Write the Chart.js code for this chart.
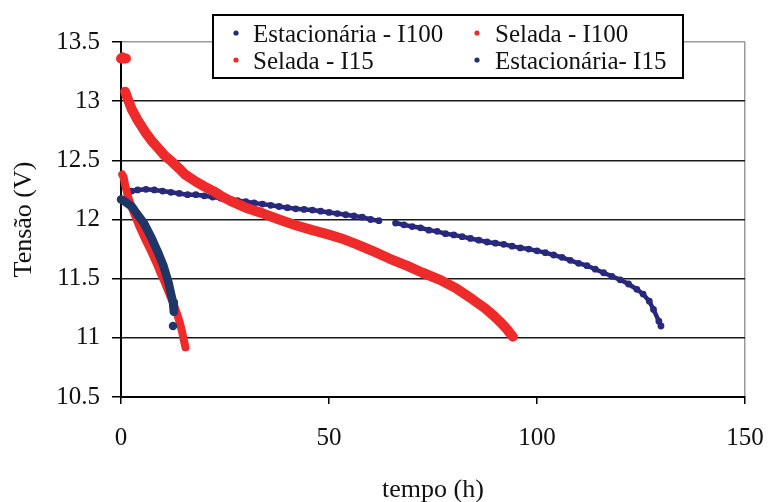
<!DOCTYPE html>
<html><head><meta charset="utf-8">
<script src="https://cdn.jsdelivr.net/npm/chart.js@4.4.1/dist/chart.umd.min.js"></script>
<style>html,body{margin:0;padding:0;background:#fff;}#wrap{width:772px;height:502px;}</style>
</head><body><div id="wrap"><canvas id="c" width="772" height="502"></canvas></div>
<script>
// ---- data ----
const xTickLabels = ['0', '50', '100', '150'];
const yTickLabels = ['10.5', '11', '11.5', '12', '12.5', '13', '13.5'];
const seriesNames = ['Estacionária - I100', 'Selada - I100', 'Selada - I15', 'Estacionária- I15'];

const estI100_t = [2.6,4,6,8,10,12,14,16,18,20,22,24,26,28,30,32,34,36,38,40,42,44,46,48,50,52,54,56,58,60,62,64,66,68,70,72,74,76,78,80,82,84,86,88,90,92,94,96,98,100,102,104,106,108,110,112,114,116,118,120,122,124,125.5,127,128,129.3,129.8];
const estI100_v = [12.24,12.25,12.255,12.25,12.24,12.23,12.22,12.21,12.21,12.20,12.19,12.18,12.17,12.16,12.15,12.14,12.13,12.12,12.11,12.10,12.09,12.085,12.08,12.07,12.06,12.05,12.04,12.03,12.02,12.00,11.99,null,11.97,11.955,11.94,11.93,11.91,11.90,11.88,11.87,11.855,11.84,11.825,11.81,11.80,11.79,11.775,11.76,11.75,11.735,11.72,11.70,11.68,11.655,11.63,11.61,11.58,11.55,11.52,11.49,11.455,11.41,11.37,11.31,11.24,11.14,11.10];

const selI100_t = [0,0.4,0.8,1.2,1.1,1.0,1.6,2.6,4,5.8,7.5,9,10.5,12.2,14,15.4,18,20,22.2,24,26.2,30,34.2,38,42.2,46,50.2,53,56.7,60.7,64.5,68.7,72.5,76.7,80.5,84.7,87.5,89.5,91,92.6,94.2];
const selI100_v = [13.36,13.37,13.36,13.36,null,13.08,13.02,12.93,12.84,12.74,12.66,12.60,12.54,12.49,12.43,12.38,12.32,12.28,12.24,12.20,12.16,12.10,12.05,12.00,11.95,11.91,11.87,11.84,11.79,11.73,11.67,11.61,11.55,11.49,11.42,11.32,11.25,11.19,11.14,11.08,11.01];

const selI15_t = [0.3,0.6,1.0,1.8,2.6,3.4,4.2,5.1,6.0,7.0,7.9,8.8,9.6,10.5,11.3,12.1,12.9,13.6,14.2,14.7,15.1,15.5];
const selI15_v = [12.38,12.36,12.29,12.18,12.10,12.03,11.96,11.89,11.82,11.75,11.68,11.61,11.54,11.47,11.40,11.33,11.26,11.19,11.12,11.05,10.98,10.92];

const estI15_t = [0,0.6,1.4,2.6,3.8,5.5,7.4,8.8,10.2,10.8,11.4,12.1,12.5,12.7,12.6,12.5];
const estI15_v = [12.17,12.16,12.14,12.11,12.05,11.97,11.84,11.73,11.61,11.54,11.47,11.36,11.30,11.22,null,11.10];

// ---- styling ----
const FONT = 'Liberation Serif, Times New Roman, serif';
const C_EST100 = '#28287c';
const C_EST15 = '#1e3766';
const C_RED = '#ee2a2a';

function pts(t, v) { return t.map((x, i) => ({ x: x, y: v[i] })); }

const legendPlugin = {
  id: 'boxLegend',
  afterDraw(chart) {
    const ctx = chart.ctx;
    ctx.save();
    ctx.fillStyle = '#fff';
    ctx.fillRect(212, 14, 471, 64);
    ctx.strokeStyle = '#000';
    ctx.lineWidth = 2;
    ctx.strokeRect(213, 15, 470, 63);
    const slots = [
      { dx: 236, tx: 253, dy: 33, by: 42 },
      { dx: 477, tx: 495, dy: 33, by: 42 },
      { dx: 236, tx: 253, dy: 60, by: 68.5 },
      { dx: 477, tx: 495, dy: 60, by: 68.5 }
    ];
    chart.data.datasets.forEach((ds, i) => {
      const s = slots[i];
      ctx.fillStyle = ds.legendColor;
      ctx.beginPath();
      ctx.arc(s.dx, s.dy, 2.6, 0, Math.PI * 2);
      ctx.fill();
      ctx.fillStyle = '#111';
      ctx.font = '25px ' + FONT;
      ctx.textBaseline = 'alphabetic';
      ctx.textAlign = 'left';
      ctx.fillText(ds.label, s.tx, s.by);
    });
    ctx.restore();
  }
};

new Chart(document.getElementById('c'), {
  type: 'scatter',
  data: {
    datasets: [
      { label: seriesNames[0], data: pts(estI100_t, estI100_v), showLine: true,
        borderColor: C_EST100, borderWidth: 4.5, borderCapStyle: 'round', spanGaps: false,
        pointRadius: 3.4, pointBackgroundColor: C_EST100, pointBorderWidth: 0,
        legendColor: C_EST100, order: 3, clip: false },
      { label: seriesNames[1], data: pts(selI100_t, selI100_v), showLine: true,
        borderColor: C_RED, borderWidth: 10, borderCapStyle: 'round', borderJoinStyle: 'round',
        pointRadius: 0, spanGaps: false, legendColor: C_RED, order: 0, clip: false },
      { label: seriesNames[2], data: pts(selI15_t, selI15_v), showLine: true,
        borderColor: C_RED, borderWidth: 8, borderCapStyle: 'round', borderJoinStyle: 'round',
        pointRadius: 0, legendColor: C_RED, order: 2, clip: false },
      { label: seriesNames[3], data: pts(estI15_t, estI15_v), showLine: true,
        borderColor: C_EST15, borderWidth: 8.5, borderCapStyle: 'round', borderJoinStyle: 'round',
        pointRadius: 3.6, pointBackgroundColor: C_EST15, pointBorderWidth: 0, spanGaps: false,
        legendColor: C_EST15, order: 1, clip: false }
    ]
  },
  options: {
    responsive: false,
    animation: false,
    devicePixelRatio: 1,
    events: [],
    layout: { padding: { top: 42, right: 27, left: 0, bottom: 0 } },
    plugins: { legend: { display: false }, tooltip: { enabled: false } },
    scales: {
      x: {
        type: 'linear', min: 0, max: 150,
        ticks: { stepSize: 50, padding: 19, maxRotation: 0, color: '#111',
          font: { family: FONT, size: 25 },
          callback: (v, i) => xTickLabels[i] },
        grid: { color: c => (c.tick && c.tick.value === 150) ? '#9a9a9a' : 'rgba(0,0,0,0)',
          tickColor: '#000', tickLength: 7, lineWidth: 1.5 },
        border: { color: '#000', width: 2 },
        title: { display: true, text: 'tempo (h)', color: '#111', padding: 0,
          font: { family: FONT, size: 26, lineHeight: 0.9 } },
        afterFit: s => { s.height = 105; s.paddingRight = 0; s.paddingLeft = 0; }
      },
      y: {
        type: 'linear', min: 10.5, max: 13.5,
        ticks: { stepSize: 0.5, padding: 12, color: '#111',
          font: { family: FONT, size: 25 },
          callback: (v, i) => yTickLabels[i] },
        grid: { color: c => (c.tick && c.tick.value === 13.5) ? '#9a9a9a' : '#1a1a1a',
          tickColor: '#000', tickLength: 9, lineWidth: 1.5 },
        border: { color: '#000', width: 2 },
        title: { display: true, text: 'Tensão (V)', color: '#111', padding: { top: 12, bottom: 0 },
          font: { family: FONT, size: 26, lineHeight: 0.9 } },
        afterFit: s => { s.width = 121; s.paddingTop = 0; s.paddingBottom = 0; }
      }
    }
  },
  plugins: [legendPlugin]
});
</script>
</body></html>
